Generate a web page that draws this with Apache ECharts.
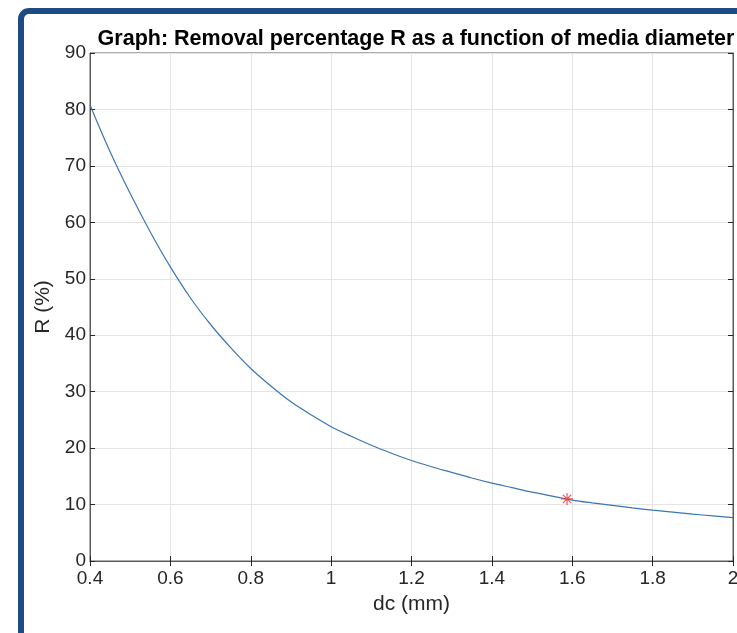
<!DOCTYPE html>
<html>
<head>
<meta charset="utf-8">
<script src="https://cdn.jsdelivr.net/npm/echarts@6/dist/echarts.min.js"></script>
<style>
  html, body { margin: 0; padding: 0; background: #fff; }
  #chart { width: 737px; height: 633px; }
</style>
</head>
<body>
<div id="chart"></div>
<script>
  // values
  const dcValues = [0.4, 0.45, 0.5, 0.55, 0.6, 0.65, 0.7, 0.75, 0.8, 0.85, 0.9, 0.95, 1.0,
    1.05, 1.1, 1.15, 1.2, 1.25, 1.3, 1.35, 1.4, 1.45, 1.5, 1.55, 1.6,
    1.65, 1.7, 1.75, 1.8, 1.85, 1.9, 1.95, 2.0]
  const rValues = [80.8, 72.5, 65.1, 58.3, 52.1, 46.6, 41.9, 37.8, 34.1, 31.0, 28.2, 25.9, 23.8,
    22.1, 20.5, 19.1, 17.8, 16.7, 15.7, 14.7, 13.8, 13.0, 12.2, 11.5, 10.8,
    10.3, 9.85, 9.4, 9.0, 8.65, 8.3, 8.0, 7.7]
  const markDc = [1.587]
  const markR = [11.0]

  const textColor = '#262626'
  const fontFam = '"Liberation Sans", Arial, Helvetica, sans-serif'

  const curve = dcValues.map((d, i) => [d, rValues[i]])
  const marks = markDc.map((d, i) => [d, markR[i]])

  const chart = echarts.init(document.getElementById('chart'), null, { renderer: 'canvas' })

  const tickStyle = { show: true, inside: true, length: 5, lineStyle: { color: textColor, width: 1 } }

  chart.setOption({
    animation: false,
    backgroundColor: '#fff',
    title: {
      text: 'Graph: Removal percentage R as a function of media diameter',
      left: 411,
      top: 23,
      textAlign: 'center',
      textStyle: { fontFamily: fontFam, fontSize: 21.5, fontWeight: 'bold', color: '#000' }
    },
    graphic: [
      {
        type: 'rect',
        shape: { x: 21, y: 11, width: 800, height: 700, r: 8 },
        style: { fill: 'none', stroke: '#1e4b84', lineWidth: 6 },
        z: 100
      }
    ],
    grid: {
      left: 90, top: 53, right: 4, bottom: 72,
      outerBoundsMode: 'none',
      show: true, borderColor: '#5a5a5a', borderWidth: 1
    },
    xAxis: [
      {
        type: 'value', min: 0.4, max: 2, interval: 0.2,
        name: 'dc (mm)', nameLocation: 'middle', nameGap: 33,
        nameTextStyle: { fontFamily: fontFam, fontSize: 21, color: textColor },
        axisLine: { show: true, lineStyle: { color: '#5a5a5a' } },
        axisTick: tickStyle,
        axisLabel: { fontFamily: fontFam, fontSize: 19, color: textColor, margin: 8 },
        splitLine: { show: true, lineStyle: { color: '#e4e4e4', width: 1 } }
      },
      {
        type: 'value', min: 0.4, max: 2, interval: 0.2, position: 'top',
        axisLine: { show: true, lineStyle: { color: '#5a5a5a' } },
        axisTick: tickStyle,
        axisLabel: { show: false },
        splitLine: { show: false }
      }
    ],
    yAxis: [
      {
        type: 'value', min: 0, max: 90, interval: 10,
        name: 'R (%)', nameLocation: 'middle', nameGap: 34,
        nameTextStyle: { fontFamily: fontFam, fontSize: 21, color: textColor },
        axisLine: { show: true, lineStyle: { color: '#5a5a5a' } },
        axisTick: tickStyle,
        axisLabel: { fontFamily: fontFam, fontSize: 19, color: textColor, margin: 4 },
        splitLine: { show: true, lineStyle: { color: '#e4e4e4', width: 1 } }
      },
      {
        type: 'value', min: 0, max: 90, interval: 10, position: 'right',
        axisLine: { show: true, lineStyle: { color: '#5a5a5a' } },
        axisTick: tickStyle,
        axisLabel: { show: false },
        splitLine: { show: false }
      }
    ],
    series: [
      {
        type: 'line',
        data: curve,
        smooth: 0.3,
        showSymbol: false,
        lineStyle: { color: '#3a76b4', width: 1.2 },
        z: 3
      },
      {
        type: 'scatter',
        data: marks,
        symbol: 'path://M0,-10L0,10M-10,0L10,0M-7,-7L7,7M-7,7L7,-7',
        symbolSize: 12,
        itemStyle: { color: 'none', borderColor: '#e23b3b', borderWidth: 1.2 },
        z: 4
      }
    ]
  })
</script>
</body>
</html>
